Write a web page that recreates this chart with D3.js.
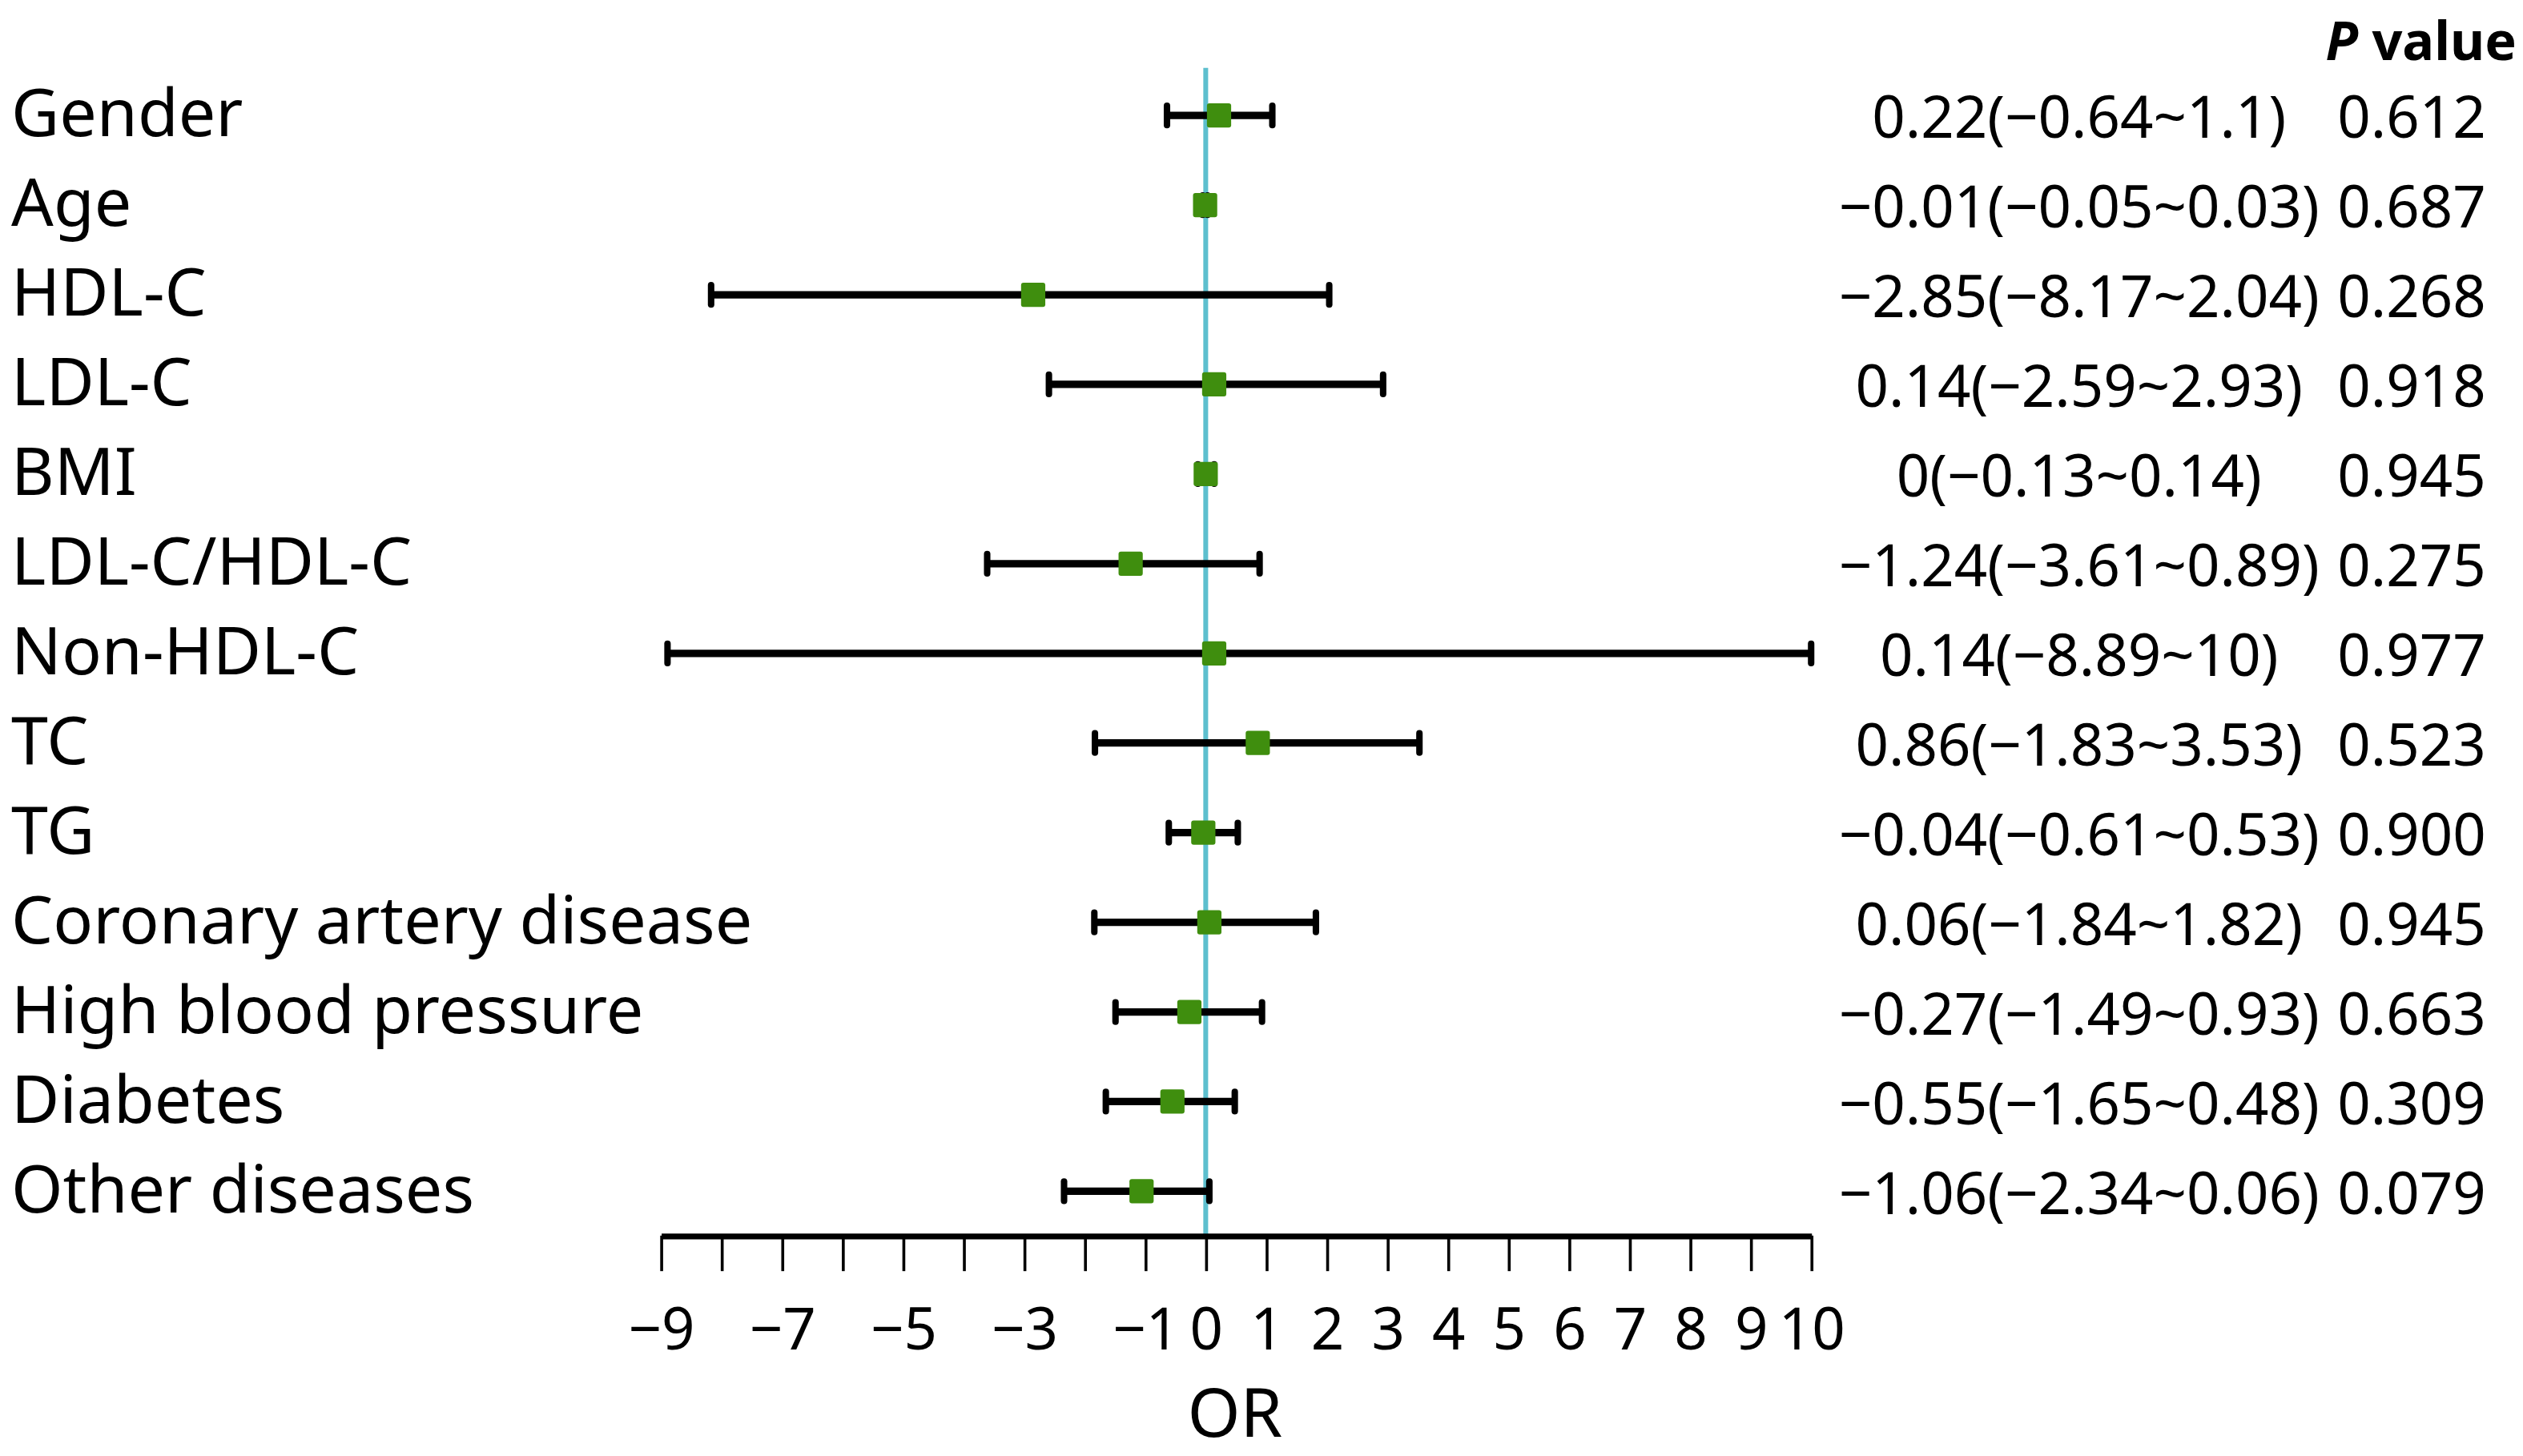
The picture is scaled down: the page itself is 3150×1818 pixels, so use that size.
<!DOCTYPE html>
<html>
<head>
<meta charset="utf-8">
<script src="https://cdn.jsdelivr.net/npm/d3@7"></script>
<style>
  body { margin: 0; background: #fff; }
  text { font-family: "Noto Sans", "Open Sans", sans-serif; fill: #000; }
</style>
</head>
<body>
<div id="canvas"></div>
<script>
const labels = ['Gender', 'Age', 'HDL-C', 'LDL-C', 'BMI', 'LDL-C/HDL-C', 'Non-HDL-C', 'TC', 'TG',
  'Coronary artery disease', 'High blood pressure', 'Diabetes', 'Other diseases'];
const estimate = [0.22, -0.01, -2.85, 0.14, 0, -1.24, 0.14, 0.86, -0.04, 0.06, -0.27, -0.55, -1.06];
const lower = [-0.64, -0.05, -8.17, -2.59, -0.13, -3.61, -8.89, -1.83, -0.61, -1.84, -1.49, -1.65, -2.34];
const upper = [1.1, 0.03, 2.04, 2.93, 0.14, 0.89, 10, 3.53, 0.53, 1.82, 0.93, 0.48, 0.06];
const pValues = ['0.612', '0.687', '0.268', '0.918', '0.945', '0.275', '0.977', '0.523', '0.900',
  '0.945', '0.663', '0.309', '0.079'];
const ticks = d3.range(-9, 11);
const labelledTicks = [-9, -7, -5, -3, -1, 0, 1, 2, 3, 4, 5, 6, 7, 8, 9, 10];

const rows = labels.map((name, i) => ({
  name, est: estimate[i], lo: lower[i], hi: upper[i], p: pValues[i]
}));

// drawing units are the 1563 x 902 picture, scaled up to the window
const W = 1563, H = 902;
const axisY = 765.5;
const green = '#3f8e0e', cyan = '#5dbfce';

const svg = d3.select('#canvas').append('svg')
  .attr('width', 3150)
  .attr('height', 1818)
  .attr('viewBox', `0 0 ${W} ${H}`);

const x = d3.scaleLinear().domain([-9, 10]).range([409.4, 1122]);
const y = d3.scalePoint().domain(labels).range([71.5, 738]);

const num = v => String(v).replace('-', '\u2212');

// reference line at 0
svg.append('line')
  .attr('x1', x(0)).attr('x2', x(0))
  .attr('y1', 42).attr('y2', axisY)
  .attr('stroke', cyan)
  .attr('stroke-width', 3);

// axis
const xAxis = d3.axisBottom(x)
  .tickValues(ticks)
  .tickSize(22)
  .tickSizeOuter(0)
  .tickPadding(23)
  .tickFormat(d => labelledTicks.includes(d) ? d3.format('d')(d) : '');

const axisG = svg.append('g')
  .attr('transform', `translate(0, ${axisY})`)
  .call(xAxis);
axisG.select('.domain').attr('stroke', '#000').attr('stroke-width', 3.6);
axisG.selectAll('.tick line').attr('stroke', '#000').attr('stroke-width', 1.8);
axisG.selectAll('.tick text')
  .attr('font-size', 36)
  .attr('font-family', '"Noto Sans", sans-serif')
  .attr('fill', '#000');

svg.append('text')
  .text('OR')
  .attr('x', 765)
  .attr('y', 890)
  .attr('text-anchor', 'middle')
  .attr('font-size', 42);

// whiskers
const g = svg.append('g');
g.selectAll('line.ci')
  .data(rows)
  .enter()
  .append('line')
  .attr('class', 'ci')
  .attr('x1', d => x(d.lo)).attr('x2', d => x(d.hi))
  .attr('y1', d => y(d.name)).attr('y2', d => y(d.name))
  .attr('stroke', '#000')
  .attr('stroke-width', 4.6);

['lo', 'hi'].forEach(k => {
  g.selectAll(`line.cap-${k}`)
    .data(rows)
    .enter()
    .append('line')
    .attr('class', `cap-${k}`)
    .attr('x1', d => x(d[k])).attr('x2', d => x(d[k]))
    .attr('y1', d => y(d.name) - 6).attr('y2', d => y(d.name) + 6)
    .attr('stroke', '#000')
    .attr('stroke-width', 4)
    .attr('stroke-linecap', 'round');
});

g.selectAll('rect')
  .data(rows)
  .enter()
  .append('rect')
  .attr('x', d => x(d.est) - 7.5)
  .attr('y', d => y(d.name) - 7.5)
  .attr('width', 15)
  .attr('height', 15)
  .attr('rx', 1.5)
  .attr('fill', green);

// left labels
svg.selectAll('text.label')
  .data(rows)
  .enter()
  .append('text')
  .attr('class', 'label')
  .text(d => d.name)
  .attr('x', 7)
  .attr('y', d => y(d.name) + 13)
  .attr('font-size', 41);

// right columns
svg.selectAll('text.ci-text')
  .data(rows)
  .enter()
  .append('text')
  .attr('class', 'ci-text')
  .text(d => `${num(d.est)}(${num(d.lo)}~${num(d.hi)})`)
  .attr('x', 1288)
  .attr('y', d => y(d.name) + 14)
  .attr('text-anchor', 'middle')
  .attr('font-size', 36);

svg.selectAll('text.p-text')
  .data(rows)
  .enter()
  .append('text')
  .attr('class', 'p-text')
  .text(d => d.p)
  .attr('x', 1494)
  .attr('y', d => y(d.name) + 14)
  .attr('text-anchor', 'middle')
  .attr('font-size', 36);

const head = svg.append('text')
  .attr('x', 1559)
  .attr('y', 37)
  .attr('text-anchor', 'end')
  .attr('font-size', 33)
  .attr('font-weight', 'bold');
head.append('tspan').attr('font-style', 'italic').text('P');
head.append('tspan').text(' value');
</script>
</body>
</html>
